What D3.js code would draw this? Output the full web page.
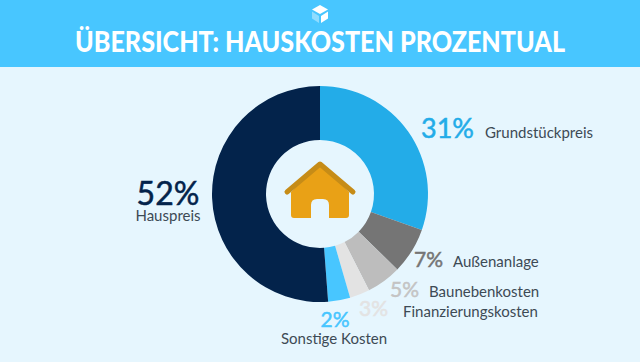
<!DOCTYPE html>
<html>
<head>
<meta charset="utf-8">
<script src="https://cdn.jsdelivr.net/npm/d3@7"></script>
<style>
  html, body { margin: 0; padding: 0; background: #e6f6fe; overflow: hidden; }
  text { font-family: Lato, sans-serif; }
</style>
</head>
<body>
<script>
const width = 640, height = 362;

// clockwise from 12 o'clock
const categories = ["Grundstückpreis", "Außenanlage", "Baunebenkosten", "Finanzierungskosten", "Sonstige Kosten", "Hauspreis"];
const shares = [31, 7, 5, 3, 2, 52];
// slice sizes as drawn in the picture, they don't quite follow the printed percentages
const sliceSizes = [30.4, 6.9, 5.2, 3.0, 3.3, 51.2];
const colors = ["#23ace8", "#757575", "#bdbdbd", "#e3e3e3", "#48c6ff", "#03234b"];
const valueColors = ["#23ace8", "#757575", "#c4c4c4", "#e3e3e3", "#48c6ff", "#03234b"];
const title = "ÜBERSICHT: HAUSKOSTEN PROZENTUAL";

const cx = 320, cy = 194, outerR = 108, innerR = 54;

const svg = d3.select("body").append("svg")
    .attr("width", width)
    .attr("height", height)
    .attr("viewBox", [0, 0, width, height])
    .style("display", "block");

svg.append("rect").attr("width", width).attr("height", height).attr("fill", "#e6f6fe");

// header band
svg.append("rect").attr("width", width).attr("height", 67).attr("fill", "#48c6ff");

svg.append("text")
    .attr("x", 320).attr("y", 52)
    .attr("text-anchor", "middle")
    .attr("fill", "#fff")
    .attr("font-size", 28.5)
    .attr("font-weight", 900)
    .attr("textLength", 490)
    .attr("lengthAdjust", "spacingAndGlyphs")
    .text(title);

// little cube logo
const logo = svg.append("g").attr("transform", "translate(320,14)");
logo.append("path").attr("d", "M0,-9L8,-4.5L0,0L-8,-4.5Z").attr("fill", "#fff");
logo.append("path").attr("d", "M8,-2.5L8,4.5L1,9L1,2Z").attr("fill", "#fff");
logo.append("path").attr("d", "M-8,-2.5L-8,4.5L-1,9L-1,2Z").attr("fill", "#8fdcff");

// donut
const pie = d3.pie().sort(null).value(d => d);
const arc = d3.arc().innerRadius(innerR).outerRadius(outerR);

svg.append("g")
    .attr("transform", `translate(${cx},${cy})`)
    .selectAll("path")
    .data(pie(sliceSizes))
    .join("path")
    .attr("d", arc)
    .attr("fill", (d, i) => colors[i]);

// house
const house = svg.append("g").attr("transform", `translate(${cx},${cy})`);
house.append("path")
    .attr("d", "M-29,-2L0,-30L29,-2L29,21Q29,24 26,24L9,24L9,11Q9,5 3,5L-3,5Q-9,5 -9,11L-9,24L-26,24Q-29,24 -29,21Z")
    .attr("fill", "#e9a116");
house.append("path")
    .attr("d", "M-33,-2L0,-30L33,-2")
    .attr("fill", "none")
    .attr("stroke", "#c68c17")
    .attr("stroke-width", 5)
    .attr("stroke-linecap", "round")
    .attr("stroke-linejoin", "round");

// label positions
const valueX = [474, 443, 419, 388, 335, 168];
const valueY = [138, 267, 297, 316, 327, 205];
const nameX = [485, 453, 429, 403, 334, 168];
const nameY = [138, 267, 297, 317, 344, 221];
const valueAnchor = ["end", "end", "end", "end", "middle", "middle"];
const nameAnchor = ["start", "start", "start", "start", "middle", "middle"];
const valueSize = [27, 21, 21, 21, 21, 32];

// Lato has no medium cut here, a thin stroke gets the weight closer
svg.append("g").selectAll("text")
    .data(shares)
    .join("text")
    .attr("x", (d, i) => valueX[i])
    .attr("y", (d, i) => valueY[i])
    .attr("text-anchor", (d, i) => valueAnchor[i])
    .attr("font-size", (d, i) => valueSize[i])
    .attr("fill", (d, i) => valueColors[i])
    .attr("stroke", (d, i) => valueColors[i])
    .attr("stroke-width", 0.5)
    .text(d => d + "%");

svg.append("g").selectAll("text")
    .data(categories)
    .join("text")
    .attr("x", (d, i) => nameX[i])
    .attr("y", (d, i) => nameY[i])
    .attr("text-anchor", (d, i) => nameAnchor[i])
    .attr("font-size", 15)
    .attr("fill", "#3d4a55")
    .text(d => d);
</script>
</body>
</html>
